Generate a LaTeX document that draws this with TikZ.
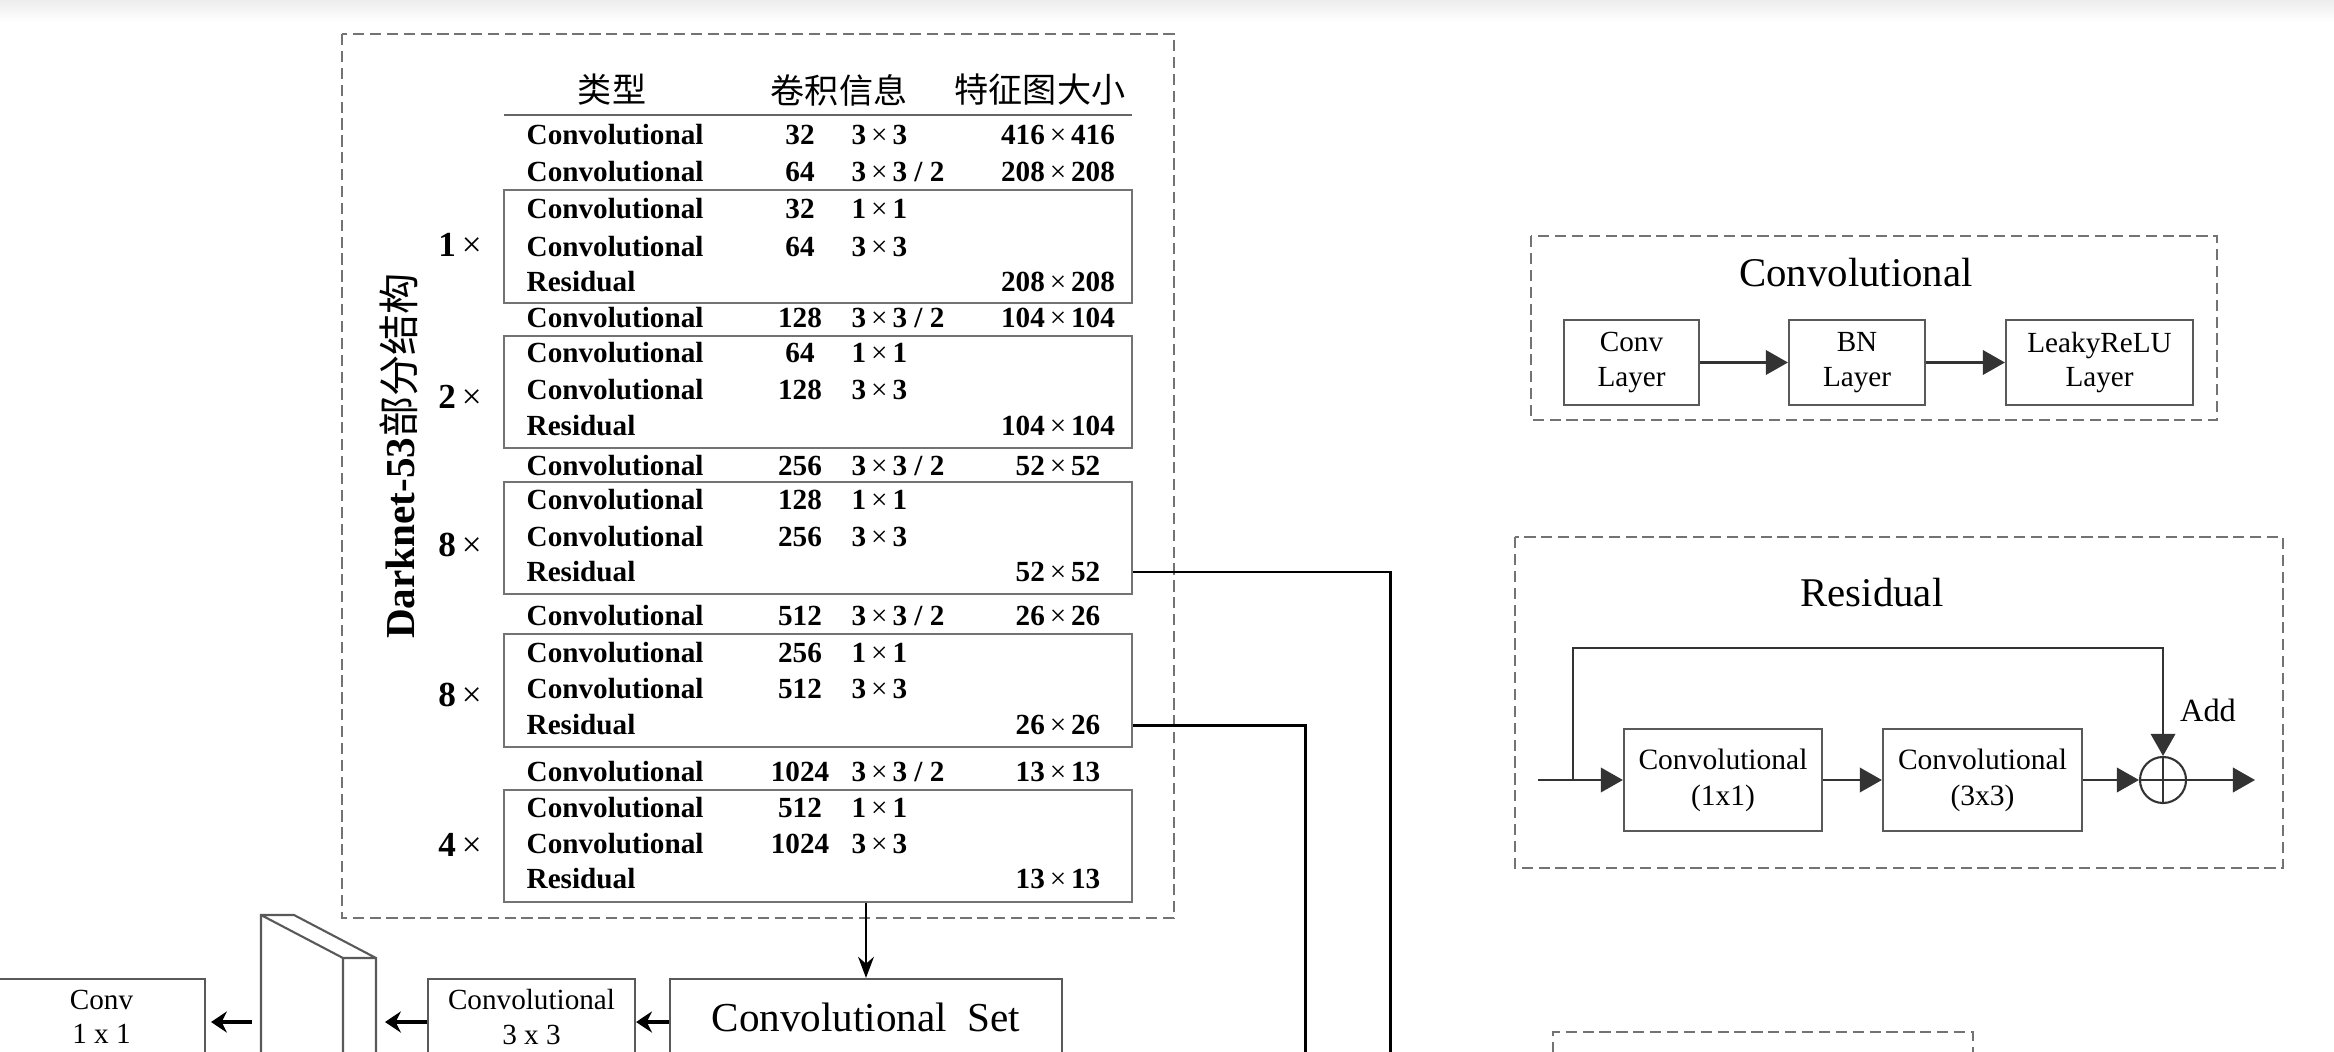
\documentclass[tikz,border=0pt]{standalone}
\usepackage{fontspec}
\setmainfont{Liberation Serif}
\newfontfamily\cjk{Noto Sans CJK SC}
\usetikzlibrary{arrows.meta}
\newcommand{\by}{\,{\mdseries ×}\,}

\begin{document}
\begin{tikzpicture}[x=0.01cm, y=-0.01cm,
  cell/.style={font=\fontsize{8.3}{10}\selectfont\bfseries, inner sep=0pt},
  head/.style={font=\fontsize{9.7}{11}\selectfont\cjk, inner sep=0pt},
  rep/.style={font=\fontsize{10}{11}\selectfont, inner sep=0pt},
  grp/.style={draw=black!55, line width=0.7pt, inner sep=0pt, minimum width=6.28cm},
  dashbox/.style={draw=black!55, line width=0.55pt, dash pattern=on 3.2pt off 1.6pt},
  blk/.style={draw=black!65, line width=0.6pt, inner sep=0pt, align=center,
              font=\fontsize{8.3}{9.8}\selectfont},
  paneltitle/.style={font=\fontsize{11.6}{13}\selectfont, inner sep=0pt},
  flow/.style={draw=black!80, line width=0.6pt, -{Triangle[length=6.3pt,width=7pt]}},
  feed/.style={line width=1.1pt, -{Stealth[length=4.5pt,width=6pt]}},
  route/.style={line width=0.85pt}]

% screenshot canvas
\useasboundingbox (0,0) rectangle (2334,1052);
\clip (0,0) rectangle (2334,1052);
\shade[top color=black!7, bottom color=white] (0,0) rectangle (2334,22);

% ---- Darknet-53 table ----
\draw[dashbox] (342,34) rectangle (1174,918);
\node[font=\fontsize{11.7}{13}\selectfont, rotate=90, inner sep=0pt] (dn) at (399,456)
  {\textbf{Darknet-53}{\cjk 部分结构}};

\node[head] (hType) at (612,90) {类型};
\node[head] (hConv) at (839,90) {卷积信息};
\node[head] (hSize) at (1040,90) {特征图大小};
\draw[black!60, line width=0.7pt] (504,115) -- (1132,115);

% residual groups
\node[grp, minimum height=1.13cm] (g1) at (818,246.5) {};
\node[grp, minimum height=1.12cm] (g2) at (818,392) {};
\node[grp, minimum height=1.12cm] (g3) at (818,538) {};
\node[grp, minimum height=1.13cm] (g4) at (818,690.5) {};
\node[grp, minimum height=1.12cm] (g5) at (818,846) {};

\node[rep] (m1) at (460,245) {\textbf{1}\,×};
\node[rep] (m2) at (460,397) {\textbf{2}\,×};
\node[rep] (m3) at (460,545) {\textbf{8}\,×};
\node[rep] (m4) at (460,695) {\textbf{8}\,×};
\node[rep] (m5) at (460,845) {\textbf{4}\,×};

% rows: type / filters / kernel / output
\node[cell, anchor=west] (t1) at (526,135) {Convolutional}; \node[cell] (n1) at (800,135) {32};
\node[cell, anchor=west] (k1) at (851,135) {3\by3}; \node[cell] (s1) at (1058,135) {416\by416};
\node[cell, anchor=west] (t2) at (526,172) {Convolutional}; \node[cell] (n2) at (800,172) {64};
\node[cell, anchor=west] (k2) at (851,172) {3\by3 / 2}; \node[cell] (s2) at (1058,172) {208\by208};
\node[cell, anchor=west] (t3) at (526,209) {Convolutional}; \node[cell] (n3) at (800,209) {32};
\node[cell, anchor=west] (k3) at (851,209) {1\by1};
\node[cell, anchor=west] (t4) at (526,247) {Convolutional}; \node[cell] (n4) at (800,247) {64};
\node[cell, anchor=west] (k4) at (851,247) {3\by3};
\node[cell, anchor=west] (t5) at (526,282) {Residual}; \node[cell] (s5) at (1058,282) {208\by208};
\node[cell, anchor=west] (t6) at (526,318) {Convolutional}; \node[cell] (n6) at (800,318) {128};
\node[cell, anchor=west] (k6) at (851,318) {3\by3 / 2}; \node[cell] (s6) at (1058,318) {104\by104};
\node[cell, anchor=west] (t7) at (526,353) {Convolutional}; \node[cell] (n7) at (800,353) {64};
\node[cell, anchor=west] (k7) at (851,353) {1\by1};
\node[cell, anchor=west] (t8) at (526,390) {Convolutional}; \node[cell] (n8) at (800,390) {128};
\node[cell, anchor=west] (k8) at (851,390) {3\by3};
\node[cell, anchor=west] (t9) at (526,426) {Residual}; \node[cell] (s9) at (1058,426) {104\by104};
\node[cell, anchor=west] (t10) at (526,466) {Convolutional}; \node[cell] (n10) at (800,466) {256};
\node[cell, anchor=west] (k10) at (851,466) {3\by3 / 2}; \node[cell] (s10) at (1058,466) {52\by52};
\node[cell, anchor=west] (t11) at (526,500) {Convolutional}; \node[cell] (n11) at (800,500) {128};
\node[cell, anchor=west] (k11) at (851,500) {1\by1};
\node[cell, anchor=west] (t12) at (526,537) {Convolutional}; \node[cell] (n12) at (800,537) {256};
\node[cell, anchor=west] (k12) at (851,537) {3\by3};
\node[cell, anchor=west] (t13) at (526,572) {Residual}; \node[cell] (s13) at (1058,572) {52\by52};
\node[cell, anchor=west] (t14) at (526,616) {Convolutional}; \node[cell] (n14) at (800,616) {512};
\node[cell, anchor=west] (k14) at (851,616) {3\by3 / 2}; \node[cell] (s14) at (1058,616) {26\by26};
\node[cell, anchor=west] (t15) at (526,653) {Convolutional}; \node[cell] (n15) at (800,653) {256};
\node[cell, anchor=west] (k15) at (851,653) {1\by1};
\node[cell, anchor=west] (t16) at (526,689) {Convolutional}; \node[cell] (n16) at (800,689) {512};
\node[cell, anchor=west] (k16) at (851,689) {3\by3};
\node[cell, anchor=west] (t17) at (526,725) {Residual}; \node[cell] (s17) at (1058,725) {26\by26};
\node[cell, anchor=west] (t18) at (526,772) {Convolutional}; \node[cell] (n18) at (800,772) {1024};
\node[cell, anchor=west] (k18) at (851,772) {3\by3 / 2}; \node[cell] (s18) at (1058,772) {13\by13};
\node[cell, anchor=west] (t19) at (526,808) {Convolutional}; \node[cell] (n19) at (800,808) {512};
\node[cell, anchor=west] (k19) at (851,808) {1\by1};
\node[cell, anchor=west] (t20) at (526,844) {Convolutional}; \node[cell] (n20) at (800,844) {1024};
\node[cell, anchor=west] (k20) at (851,844) {3\by3};
\node[cell, anchor=west] (t21) at (526,879) {Residual}; \node[cell] (s21) at (1058,879) {13\by13};

% ---- head, bottom row ----
\node[blk, font=\fontsize{11.7}{13}\selectfont, minimum width=3.92cm, minimum height=0.76cm]
  (cset) at (866,1017) {Convolutional\ \ Set};
\node[blk, minimum width=2.07cm, minimum height=0.76cm] (c33) at (531.5,1017) {Convolutional\\3 x 3};
\node[blk, minimum width=2.07cm, minimum height=0.76cm] (c11) at (101.5,1017) {Conv\\1 x 1};

% feature-map slab
\draw[black!65, line width=0.6pt] (261,1060) -- (261,915) -- (294,915) -- (376,958) -- (376,1060)
      (261,915) -- (343,958) -- (376,958)  (343,958) -- (343,1060);
\coordinate (slabR) at (385,1022);
\coordinate (slabL) at (252,1022);

\draw[line width=0.6pt, -{Stealth[length=6pt,width=4.5pt]}] (g5.south -| cset.north) -- (cset.north);
\draw[feed] (cset.west |- slabR) -- (c33.east |- slabR);
\draw[feed] (c33.west |- slabR) -- (slabR);
\draw[feed, shorten >=1.4pt] (slabL) -- (c11.east |- slabL);

% taps to the other scales
\coordinate (p52) at (1390,1060);
\coordinate (p26) at (1305,1060);
\draw[route] (s13 -| g3.east) -| (p52);
\draw[route] (s17 -| g4.east) -| (p26);

% ---- Convolutional block ----
\draw[dashbox] (1531,236) rectangle (2217,420);
\node[paneltitle] (convT) at (1856,273) {Convolutional};
\node[blk, minimum width=1.35cm, minimum height=0.85cm] (cl) at (1631.5,362.5) {Conv\\Layer};
\node[blk, minimum width=1.36cm, minimum height=0.85cm] (bn) at (1857,362.5) {BN\\Layer};
\node[blk, minimum width=1.87cm, minimum height=0.85cm] (lr) at (2099.5,362.5) {LeakyReLU\\Layer};
\draw[flow] (cl) -- (bn);
\draw[flow] (bn) -- (lr);

% ---- Residual block ----
\draw[dashbox] (1515,537) rectangle (2283,868);
\node[paneltitle] (resT) at (1872,593) {Residual};
\node[blk, font=\fontsize{8.4}{10.2}\selectfont, minimum width=1.98cm, minimum height=1.02cm]
  (r1) at (1723,780) {Convolutional\\(1x1)};
\node[blk, font=\fontsize{8.4}{10.2}\selectfont, minimum width=1.99cm, minimum height=1.02cm]
  (r3) at (1982.5,780) {Convolutional\\(3x3)};
\node[draw=black!80, line width=0.6pt, circle, minimum size=0.46cm, inner sep=0pt] (add) at (2163,780) {};
\draw[black!80, line width=0.6pt] (add.north) -- (add.south) (add.west) -- (add.east);
\node[font=\fontsize{9.2}{11}\selectfont, inner sep=0pt] (addL) at (2208,710) {Add};
\coordinate (rin) at (1538,780);
\coordinate (fork) at (1573,780);
\coordinate (skip) at (2163,648);
\coordinate (rout) at (2255,780);
\draw[flow] (rin) -- (r1);
\draw[flow] (r1) -- (r3);
\draw[flow] (r3) -- (add);
\draw[flow] (add) -- (rout);
\draw[flow] (fork) |- (skip) -- (add);

% ---- next block (cut off) ----
\draw[dashbox] (1553,1070) -- (1553,1032) -- (1973,1032) -- (1973,1070);

\end{tikzpicture}
\end{document}
